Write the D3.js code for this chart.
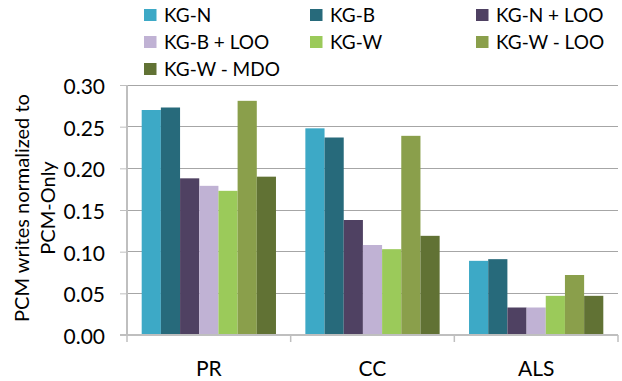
<!DOCTYPE html>
<html><head><meta charset="utf-8">
<script src="https://cdn.jsdelivr.net/npm/d3@7"></script>
<style>body{margin:0;background:#fff}svg{display:block}text{font-family:Lato,"Open Sans",sans-serif;fill:#000}</style>
</head><body><svg id="c" width="622" height="381"></svg>
<script>
const categories = ["PR", "CC", "ALS"];
const seriesNames = ["KG-N", "KG-B", "KG-N + LOO", "KG-B + LOO", "KG-W", "KG-W - LOO", "KG-W - MDO"];
const seriesColors = ["#3DA9C6", "#276A7B", "#4F4162", "#C0B2D4", "#9BCA5A", "#8A9F4B", "#617234"];
const kgN     = [0.270, 0.248, 0.089];
const kgB     = [0.273, 0.237, 0.091];
const kgNLoo  = [0.188, 0.138, 0.033];
const kgBLoo  = [0.179, 0.108, 0.033];
const kgW     = [0.173, 0.103, 0.047];
const kgWLoo  = [0.281, 0.239, 0.072];
const kgWMdo  = [0.190, 0.119, 0.047];
const yTicks = [0, 0.05, 0.10, 0.15, 0.20, 0.25, 0.30];

const seriesValues = [kgN, kgB, kgNLoo, kgBLoo, kgW, kgWLoo, kgWMdo];
const svg = d3.select("#c");
const m = {l: 127, r: 618, t: 85, b: 335};
const x0 = d3.scaleBand().domain(categories).range([m.l, m.r]).paddingInner(0).paddingOuter(0);
const x1 = d3.scaleBand().domain(seriesNames).range([0, x0.bandwidth()]).paddingOuter(0.766).paddingInner(0);
const y = d3.scaleLinear().domain([0, 0.30]).range([m.b, m.t]);

// gridlines
svg.append("g").selectAll("line").data(yTicks.filter(d => d > 0)).join("line")
  .attr("x1", m.l).attr("x2", m.r).attr("y1", d => y(d)).attr("y2", d => y(d))
  .attr("stroke", "#a6a6a6").attr("stroke-width", 1).attr("shape-rendering", "crispEdges");

// bars
const g = svg.append("g");
categories.forEach((c, ci) => {
  g.append("g").attr("transform", `translate(${x0(c)},0)`)
    .selectAll("rect").data(seriesNames.map((s, si) => ({s, v: seriesValues[si][ci], col: seriesColors[si]})))
    .join("rect")
    .attr("x", d => x1(d.s)).attr("width", x1.bandwidth())
    .attr("y", d => y(d.v)).attr("height", d => y(0) - y(d.v))
    .attr("fill", d => d.col);
});

// y axis
const ya = d3.axisLeft(y).tickValues(yTicks).tickFormat(d3.format(".2f")).tickSize(7).tickPadding(15);
const yg = svg.append("g").attr("transform", `translate(${m.l},0)`).call(ya);
yg.select(".domain").attr("stroke", "#bfbfbf").attr("stroke-width", 2).attr("d", `M0,${m.t}V${m.b}`);
yg.selectAll(".tick line").attr("stroke", "#bfbfbf");
yg.selectAll(".tick text").style("font-size", "21px").attr("fill", "#000").attr("dy", "0.4em");

// x axis
const xg = svg.append("g").attr("transform", `translate(0,${m.b})`);
xg.append("line").attr("x1", m.l - 7).attr("x2", m.r).attr("y1", 0).attr("y2", 0).attr("stroke", "#bfbfbf").attr("stroke-width", 2);
const bounds = categories.map(c => x0(c)).concat([m.r]);
xg.selectAll("line.t").data(bounds).join("line").attr("class", "t")
  .attr("x1", d => d).attr("x2", d => d).attr("y1", 0).attr("y2", 7).attr("stroke", "#bfbfbf").attr("stroke-width", 1.5);
xg.selectAll("text").data(categories).join("text")
  .attr("x", d => x0(d) + x0.bandwidth() / 2).attr("y", 41)
  .attr("text-anchor", "middle").style("font-size", "21px").text(d => d);

// axis title
const t = svg.append("text").attr("transform", "translate(0,208) rotate(-90)").attr("text-anchor", "middle").style("font-size", "20px");
t.append("tspan").attr("x", 0).attr("y", 29).text("PCM writes normalized to");
t.append("tspan").attr("x", 0).attr("y", 55).text("PCM-Only");

// legend
const lx = [144, 310, 476], ly = [15, 42, 69];
const lg = svg.append("g");
seriesNames.forEach((s, i) => {
  const cx = lx[i % 3], cy = ly[Math.floor(i / 3)];
  lg.append("rect").attr("x", cx).attr("y", cy - 6).attr("width", 12.5).attr("height", 12).attr("fill", seriesColors[i]);
  lg.append("text").attr("x", cx + 20).attr("y", cy).attr("dy", "0.36em").style("font-size", "19px").text(s);
});
</script></body></html>
